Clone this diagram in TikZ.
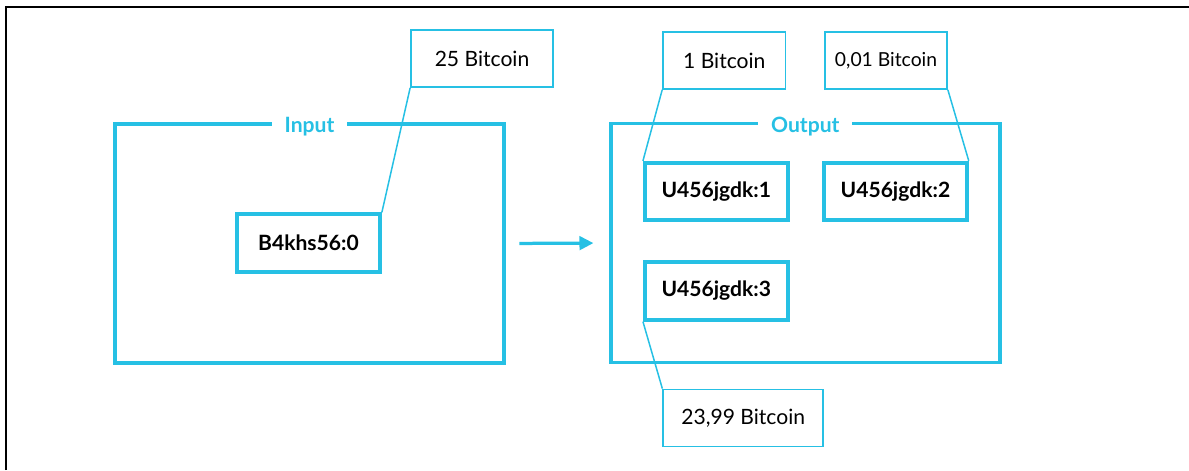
\documentclass[tikz,border=0pt]{standalone}
\usepackage{fontspec}
\setmainfont{Lato}
\usetikzlibrary{arrows.meta}
\definecolor{btcblue}{RGB}{38,192,228}

\begin{document}
\begin{tikzpicture}[x=0.02cm, y=-0.02cm,
  frame/.style={draw=btcblue, line width=0.075cm, minimum width=7.78cm, minimum height=4.78cm},
  coin/.style={draw=btcblue, line width=0.075cm, minimum width=2.86cm, minimum height=1.15cm,
    font=\large\bfseries},
  amount/.style={draw=btcblue, line width=0.035cm, minimum height=1.14cm, font=\large},
  title/.style={fill=white, text=btcblue, font=\large\bfseries, inner xsep=0.26cm,
    yshift=-0.09cm},
  link/.style={btcblue, line width=0.03cm}]
  \useasboundingbox (0,0) rectangle (1189,470);
  \draw[line width=0.06cm] (6,470) -- (6,7) -- (1189,7);
  % input side
  \node[frame] (inframe) at (309.5,243.5) {};
  \node[title] (inlabel) at (inframe.north) {Input};
  \node[coin] (b4) at (308.5,243) {B4khs56:0};
  \node[amount, minimum width=2.84cm] (btc25) at (482,58.5) {25 Bitcoin};
  % output side
  \node[frame] (outframe) at (805.3,243) {};
  \node[title] (outlabel) at (outframe.north) {Output};
  \node[coin] (u1) at (716.3,191.5) {U456jgdk:1};
  \node[coin] (u2) at (895.4,191.5) {U456jgdk:2};
  \node[coin] (u3) at (716.3,291) {U456jgdk:3};
  \node[amount, minimum width=2.45cm] (btc1) at (724.3,60.5) {1 Bitcoin};
  \node[amount, minimum width=2.44cm, font=\fontsize{11}{13}\selectfont] (btc001) at (886,60.5) {0,01 Bitcoin};
  \node[amount, minimum width=3.2cm] (btc2399) at (743.2,418) {23,99 Bitcoin};
  % connectors
  \draw[link] (b4.north east) -- (btc25.south west);
  \draw[link] (u1.north west) -- (btc1.south west);
  \draw[link] (u2.north east) -- (btc001.south east);
  \draw[link] (u3.south west) -- (btc2399.north west);
  \draw[btcblue, line width=0.065cm, -{Triangle[length=0.28cm, width=0.27cm]},
    shorten <=0.27cm, shorten >=0.31cm] (inframe.east) -- (outframe.west);
\end{tikzpicture}
\end{document}
